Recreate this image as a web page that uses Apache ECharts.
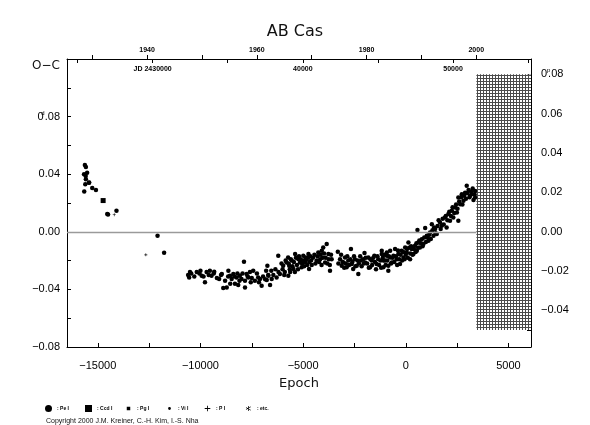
<!DOCTYPE html>
<html>
<head>
<meta charset="utf-8">
<script src="https://cdn.jsdelivr.net/npm/echarts@6/dist/echarts.min.js"></script>
<style>
  html, body { margin: 0; background: #fff; }
  #chart { width: 590px; height: 425px; }
</style>
</head>
<body>
<div id="chart"></div>
<script>
// axis ranges (epoch on the bottom, O-C in days on the left, phase on the right)
const epochMin = -16500, epochMax = 6100;
const ocMin = -0.08, ocMax = 0.12;
const phMin = -0.0587, phMax = 0.0877;
// ephemeris used to convert epoch -> JD -> year for the top scales
const period = 1.366881, jdZero = 2446852;
// hatched window on the right, in epoch / phase units
const hatchEpoch = 3440, hatchTop = 0.08, hatchBottom = -0.05;

const epochTicks = [-15000, -12500, -10000, -7500, -5000, -2500, 0, 2500, 5000];
const epochLabels = [-15000, -10000, -5000, 0, 5000];
const ocLabels = [-0.08, -0.04, 0, 0.04, 0.08];
const phTicks = [-0.05, -0.04, -0.03, -0.02, -0.01, 0, 0.01, 0.02, 0.03, 0.04, 0.05, 0.06, 0.07, 0.08];
const phLabels = [-0.04, -0.02, 0, 0.02, 0.04, 0.06, 0.08];
const yearTicks = [1930, 1940, 1950, 1960, 1970, 1980, 1990, 2000];
const yearLabels = [1940, 1960, 1980, 2000];
const jdTicks = [25000, 30000, 35000, 40000, 45000, 50000, 55000];
const jdLabels = [30000, 40000, 50000];

// visual minima, [epoch, O-C]
const viEarly = [
  [-15630, 0.0464], [-15580, 0.0450], [-15670, 0.0400], [-15520, 0.0410], [-15590, 0.0388],
  [-15580, 0.0365], [-15610, 0.0330], [-15430, 0.0340], [-15660, 0.0280], [-15270, 0.0305],
  [-15090, 0.0290], [-15420, 0.0343], [-14500, 0.0120], [-14540, 0.0123], [-14090, 0.0146],
  [-12090, -0.0028], [-11770, -0.0146]
];
const viOld = [
  [-10600, -0.0300], [-10510, -0.0280], [-10550, -0.0317], [-10450, -0.0290], [-10300, -0.0310],
  [-10180, -0.0280], [-10050, -0.0290], [-10000, -0.0270], [-9940, -0.0305], [-9850, -0.0310],
  [-9780, -0.0350], [-9700, -0.0280], [-9600, -0.0300], [-9540, -0.0270], [-9460, -0.0305],
  [-9350, -0.0290], [-9330, -0.0277], [-9200, -0.0320], [-9090, -0.0328], [-9000, -0.0300],
  [-8960, -0.0293], [-8890, -0.0390], [-8800, -0.0340], [-8720, -0.0386], [-8650, -0.0310],
  [-8640, -0.0270], [-8560, -0.0305], [-8550, -0.0360], [-8480, -0.0328], [-8400, -0.0293],
  [-8350, -0.0310], [-8320, -0.0360], [-8240, -0.0317], [-8200, -0.0290], [-8160, -0.0370],
  [-8100, -0.0340], [-8080, -0.0305], [-8000, -0.0328], [-7950, -0.0290], [-7880, -0.0208],
  [-7830, -0.0340], [-7830, -0.0386], [-7750, -0.0293], [-7700, -0.0310], [-7670, -0.0317],
  [-7590, -0.0280], [-7550, -0.0350], [-7500, -0.0320], [-7430, -0.0270], [-7350, -0.0340],
  [-7250, -0.0290], [-7190, -0.0317], [-7150, -0.0350], [-7100, -0.0328], [-7020, -0.0374],
  [-6950, -0.0310], [-6850, -0.0330], [-6800, -0.0270], [-6770, -0.0335], [-6740, -0.0236],
  [-6700, -0.0300], [-6690, -0.0305], [-6610, -0.0370], [-6550, -0.0270], [-6530, -0.0328],
  [-6450, -0.0300], [-6350, -0.0260], [-6290, -0.0317], [-6210, -0.0166], [-6200, -0.0280],
  [-6130, -0.0293], [-6050, -0.0220], [-6000, -0.0260], [-5970, -0.0236], [-5920, -0.0300],
  [-5890, -0.0280], [-5850, -0.0200], [-5810, -0.0213], [-5720, -0.0305]
];
const viMid = [
  [-5730, -0.0178], [-5700, -0.0220], [-5680, -0.0236], [-5650, -0.0260], [-5630, -0.0280],
  [-5600, -0.0190], [-5550, -0.0200], [-5520, -0.0240], [-5470, -0.0258], [-5450, -0.0210],
  [-5400, -0.0280], [-5390, -0.0155], [-5350, -0.0180], [-5300, -0.0230], [-5250, -0.0260],
  [-5230, -0.0190], [-5200, -0.0170], [-5150, -0.0213], [-5120, -0.0190], [-5070, -0.0247],
  [-5050, -0.0220], [-5000, -0.0200], [-4990, -0.0166], [-4950, -0.0240], [-4900, -0.0210],
  [-4880, -0.0178], [-4850, -0.0190], [-4800, -0.0230], [-4760, -0.0180], [-4740, -0.0155],
  [-4710, -0.0258], [-4700, -0.0210], [-4650, -0.0170], [-4610, -0.0200], [-4580, -0.0230],
  [-4520, -0.0180], [-4450, -0.0160], [-4400, -0.0220], [-4340, -0.0200], [-4300, -0.0170],
  [-4260, -0.0143], [-4220, -0.0210], [-4170, -0.0190], [-4150, -0.0160], [-4100, -0.0230],
  [-4090, -0.0132], [-4050, -0.0180], [-4020, -0.0109], [-3980, -0.0150], [-3930, -0.0213],
  [-3900, -0.0180], [-3850, -0.0085], [-3820, -0.0220], [-3770, -0.0155], [-3750, -0.0190],
  [-3700, -0.0230], [-3690, -0.0270], [-3640, -0.0160], [-3610, -0.0190],
  [-3310, -0.0139], [-3280, -0.0220], [-3200, -0.0190], [-3150, -0.0160], [-3120, -0.0236],
  [-3080, -0.0210], [-3040, -0.0213], [-3000, -0.0250], [-2960, -0.0178], [-2920, -0.0220],
  [-2880, -0.0247], [-2850, -0.0170], [-2800, -0.0200], [-2760, -0.0230], [-2700, -0.0190],
  [-2670, -0.0120], [-2630, -0.0224], [-2600, -0.0210], [-2560, -0.0258], [-2520, -0.0170],
  [-2480, -0.0190], [-2450, -0.0240], [-2390, -0.0236], [-2350, -0.0200], [-2310, -0.0293],
  [-2280, -0.0220], [-2220, -0.0170], [-2180, -0.0200], [-2150, -0.0240], [-2080, -0.0190],
  [-2040, -0.0220], [-2010, -0.0148], [-1980, -0.0213], [-1950, -0.0180], [-1880, -0.0220],
  [-1820, -0.0178], [-1800, -0.0250], [-1740, -0.0247], [-1720, -0.0190], [-1660, -0.0200],
  [-1640, -0.0230], [-1580, -0.0180], [-1530, -0.0166], [-1500, -0.0210], [-1450, -0.0260],
  [-1420, -0.0224], [-1380, -0.0170], [-1340, -0.0190], [-1300, -0.0230], [-1230, -0.0200],
  [-1200, -0.0250], [-1170, -0.0155], [-1170, -0.0132], [-1120, -0.0180], [-1090, -0.0247],
  [-1090, -0.0200], [-1050, -0.0160], [-1010, -0.0200], [-980, -0.0230], [-920, -0.0143],
  [-920, -0.0166], [-900, -0.0200], [-850, -0.0236], [-850, -0.0270], [-820, -0.0170],
  [-760, -0.0178], [-760, -0.0132], [-720, -0.0220], [-680, -0.0213], [-640, -0.0180]
];
const viLate = [
  [-600, -0.0166], [-560, -0.0210], [-520, -0.0120], [-480, -0.0170], [-440, -0.0190],
  [-420, -0.0230], [-380, -0.0130], [-360, -0.0155], [-320, -0.0190], [-280, -0.0224],
  [-250, -0.0160], [-200, -0.0132], [-180, -0.0200], [-120, -0.0140], [-110, -0.0178],
  [-60, -0.0190], [-30, -0.0109], [0, -0.0160], [50, -0.0143], [60, -0.0120],
  [100, -0.0180], [130, -0.0074], [160, -0.0110], [210, -0.0190], [220, -0.0150],
  [260, -0.0100], [290, -0.0120], [330, -0.0160], [370, -0.0155], [400, -0.0120],
  [450, -0.0097], [480, -0.0140], [520, -0.0080], [540, -0.0132], [570, 0.0012],
  [600, -0.0110], [610, -0.0074], [660, -0.0060], [690, -0.0109], [740, -0.0080],
  [780, -0.0051], [820, -0.0100], [860, -0.0085], [900, -0.0040], [945, 0.0026],
  [980, -0.0070], [1025, -0.0028], [1060, -0.0040], [1105, -0.0062], [1140, -0.0020],
  [1185, -0.0005], [1220, -0.0050], [1270, 0.0053], [1300, 0.0010], [1350, -0.0028],
  [1380, 0.0030], [1430, 0.0019], [1460, -0.0010], [1510, -0.0016], [1550, 0.0040],
  [1600, 0.0080], [1670, 0.0064], [1700, 0.0020], [1750, 0.0042], [1800, 0.0090],
  [1850, 0.0050], [1910, 0.0099], [1950, 0.0110], [1990, 0.0030], [2030, 0.0080],
  [2075, 0.0123], [2120, 0.0140], [2155, 0.0076], [2200, 0.0110], [2245, 0.0146],
  [2280, 0.0170], [2315, 0.0099], [2360, 0.0130], [2410, 0.0168], [2450, 0.0190],
  [2490, 0.0134], [2520, 0.0160], [2560, 0.0076], [2560, 0.0238], [2600, 0.0210],
  [2650, 0.0192], [2700, 0.0240], [2730, 0.0261], [2760, 0.0190], [2810, 0.0215],
  [2850, 0.0250], [2930, 0.0230]
];
// photoelectric, photographic and other minima
const pePts = [
  [2890, 0.0272], [2970, 0.0319], [3000, 0.0270], [3060, 0.0290], [3100, 0.0240],
  [3130, 0.0250], [3180, 0.0280], [3210, 0.0261], [3260, 0.0300], [3300, 0.0220],
  [3350, 0.0260], [3375, 0.0284], [3375, 0.0238]
];
const ccdPts = [];
const pgPts = [[-14740, 0.0217]];
const pPts = [[-14200, 0.0118], [-12660, -0.0160]];
const etcPts = [];

// legend entries and where each one starts
const legendNames = ['Pe I', 'Ccd I', 'Pg I', 'Vi I', 'P I', 'etc.'];
const legendLefts = [40, 80, 120, 161, 199, 240];

const jdAt = e => jdZero + period * e;
const yearOf = jd => 2000 + (jd - 2451544.5) / 365.25;
const minus = s => s.replace('-', '\u2212');
const fmt2 = v => minus(v.toFixed(2));

// fine hatch pattern for the right-hand window
const pat = document.createElement('canvas');
pat.width = 3; pat.height = 3;
const pc = pat.getContext('2d');
pc.fillStyle = '#fff'; pc.fillRect(0, 0, 3, 3);
pc.fillStyle = '#4a4a4a'; pc.fillRect(0, 0, 3, 1); pc.fillRect(0, 0, 1, 3);

const plusPath = 'path://M4,0H6V4H10V6H6V10H4V6H0V4H4Z';
const legendIcons = [
  'circle',
  'rect',
  'path://M0,0M10,10M2.5,2.5H7.5V7.5H2.5Z',
  'path://M0,0M10,10M7,5A2,2,0,1,1,6.99,4.8Z',
  'path://M0,0M10,10M4.4,1H5.6V4.4H9V5.6H5.6V9H4.4V5.6H1V4.4H4.4Z',
  'path://M0,0M10,10M4.5,1.5H5.5V8.5H4.5Z M1.7,3.2L8.5,7L8,7.9L1.2,4.1Z M8,2.1L8.5,3L1.7,6.8L1.2,5.9Z'
];

const font = 'Liberation Sans';
const black = '#000';
const dot = { color: black, opacity: 1 };
const chart = echarts.init(document.getElementById('chart'));

chart.setOption({
  animation: false,
  textStyle: { fontFamily: font, color: black },
  title: [
    { text: 'AB Cas', left: 'center', top: 19,
      textStyle: { fontFamily: 'DejaVu Sans', fontSize: 16, fontWeight: 'normal', color: '#111' } },
    { text: 'O\u2212C', left: 27, top: 55,
      textStyle: { fontFamily: 'DejaVu Sans', fontSize: 12, fontWeight: 'normal', color: '#111' } },
    { text: 'Copyright 2000 J.M. Kreiner, C.-H. Kim, I.-S. Nha', left: 41, top: 413,
      textStyle: { fontFamily: font, fontSize: 7, fontWeight: 'normal', color: '#111' } }
  ],
  // one small legend per entry so they sit at even spacing
  legend: legendNames.map((n, i) => ({
    left: legendLefts[i], top: 400,
    itemWidth: 7, itemHeight: 7, selectedMode: false,
    formatter: s => ': ' + s,
    textStyle: { fontSize: 5, fontWeight: 'bold', color: black },
    data: [{ name: n, icon: legendIcons[i] }]
  })),
  grid: { left: 67, right: 59, top: 59, bottom: 78 },
  xAxis: [
    {
      type: 'value', position: 'bottom', min: epochMin, max: epochMax,
      name: 'Epoch', nameLocation: 'middle', nameGap: 30,
      nameTextStyle: { fontFamily: 'DejaVu Sans', fontSize: 13, color: '#111' },
      axisLine: { show: true, onZero: false, lineStyle: { color: black, width: 1 } },
      axisTick: { inside: true, length: 4, customValues: epochTicks, lineStyle: { color: black } },
      axisLabel: { customValues: epochLabels, margin: 13, fontSize: 11, color: black,
        formatter: v => minus(String(v)) },
      splitLine: { show: false }
    },
    {
      type: 'value', position: 'top',
      min: yearOf(jdAt(epochMin)), max: yearOf(jdAt(epochMax)),
      axisLine: { show: true, onZero: false, lineStyle: { color: black, width: 1 } },
      axisTick: { inside: false, length: 4, customValues: yearTicks, lineStyle: { color: black } },
      axisLabel: { customValues: yearLabels, margin: 5, fontSize: 7, fontWeight: 'bold', color: black,
        formatter: v => String(v) },
      splitLine: { show: false }
    },
    {
      type: 'value', position: 'top',
      min: jdAt(epochMin) - 2400000, max: jdAt(epochMax) - 2400000,
      axisLine: { show: false, onZero: false },
      axisTick: { inside: true, length: 4, customValues: jdTicks, lineStyle: { color: black } },
      axisLabel: { inside: true, customValues: jdLabels, margin: 7, fontSize: 7, fontWeight: 'bold',
        color: black, formatter: v => (v === 30000 ? 'JD 2430000' : String(v)) },
      splitLine: { show: false }
    }
  ],
  yAxis: [
    {
      type: 'value', position: 'left', min: ocMin, max: ocMax, interval: 0.02,
      axisLine: { show: true, onZero: false, lineStyle: { color: black, width: 1 } },
      axisTick: { inside: true, length: 4, lineStyle: { color: black } },
      axisLabel: {
        customValues: ocLabels, margin: 7, fontSize: 11, color: black,
        formatter: v => (Math.abs(v - 0.08) < 1e-9 ? '0{s|d}.08' : fmt2(v)),
        rich: { s: { fontSize: 6, width: 1, color: black, verticalAlign: 'top', padding: [0, 0, 7, 0] } }
      },
      splitLine: { show: false }
    },
    {
      type: 'value', position: 'right', min: phMin, max: phMax,
      axisLine: { show: true, onZero: false, lineStyle: { color: black, width: 1 } },
      axisTick: { inside: true, length: 4, customValues: phTicks, lineStyle: { color: black } },
      axisLabel: {
        customValues: phLabels, margin: 10, fontSize: 11, color: black,
        formatter: v => (Math.abs(v - 0.08) < 1e-9 ? '0{s|p}.08' : fmt2(v)),
        rich: { s: { fontSize: 6, width: 1, color: black, verticalAlign: 'top', padding: [0, 0, 7, 0] } }
      },
      splitLine: { show: false }
    }
  ],
  series: [
    {
      name: 'Vi I', type: 'scatter', symbol: 'circle', symbolSize: 4.5,
      itemStyle: dot,
      data: viEarly.concat(viOld, viMid, viLate),
      markLine: {
        silent: true, symbol: 'none', label: { show: false },
        lineStyle: { color: '#9a9a9a', width: 1.3, type: 'solid' },
        data: [[{ coord: [epochMin, 0] }, { coord: [hatchEpoch, 0] }]]
      }
    },
    { name: 'Pe I', type: 'scatter', symbol: 'circle', symbolSize: 4.5, itemStyle: dot, data: pePts },
    { name: 'Ccd I', type: 'scatter', symbol: 'rect', symbolSize: 6, itemStyle: dot, data: ccdPts },
    { name: 'Pg I', type: 'scatter', symbol: 'rect', symbolSize: 5, itemStyle: dot, data: pgPts },
    { name: 'P I', type: 'scatter', symbol: plusPath, symbolSize: 3, itemStyle: dot, data: pPts },
    { name: 'etc.', type: 'scatter', symbol: legendIcons[5], symbolSize: 4, itemStyle: dot, data: etcPts },
    {
      name: 'window', type: 'scatter', xAxisIndex: 0, yAxisIndex: 1, data: [], silent: true,
      markArea: {
        silent: true,
        itemStyle: { color: { image: pat, repeat: 'repeat' }, borderWidth: 0 },
        data: [[{ coord: [hatchEpoch, hatchTop] }, { coord: [epochMax, hatchBottom] }]]
      }
    }
  ]
});
</script>
</body>
</html>
